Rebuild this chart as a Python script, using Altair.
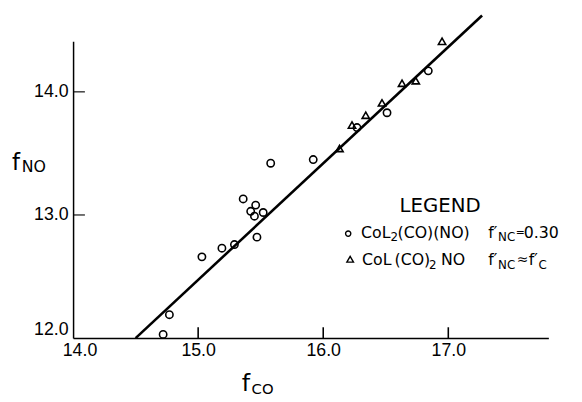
import altair as alt
import pandas as pd

# ---- data ----
circ_x = [14.72, 14.77, 15.03, 15.19, 15.29, 15.47, 15.45, 15.42, 15.52, 15.46, 15.36, 15.58, 15.92, 16.27, 16.51, 16.84]
circ_y = [12.03, 12.19, 12.66, 12.73, 12.76, 12.82, 12.99, 13.03, 13.02, 13.08, 13.13, 13.42, 13.45, 13.71, 13.83, 14.17]
tri_x = [16.13, 16.23, 16.34, 16.47, 16.63, 16.74, 16.95]
tri_y = [13.54, 13.73, 13.81, 13.91, 14.07, 14.09, 14.41]
fit_x = [14.50, 17.27]
fit_y = [12.00, 14.62]
x_labels = [14.0, 15.0, 16.0, 17.0]
y_labels = [12.0, 13.0, 14.0]
x_inner_ticks = [15.0, 16.0, 17.0]
y_inner_ticks = [13.0, 14.0]

W, H = 482, 301
XMIN, XMAX, YMIN, YMAX = 14.0, 17.8, 12.0, 14.41
xscale = alt.Scale(domain=[XMIN, XMAX], nice=False, zero=False)
yscale = alt.Scale(domain=[YMIN, YMAX], nice=False, zero=False)

pts = pd.DataFrame({
    "x": circ_x + tri_x,
    "y": circ_y + tri_y,
    "s": ["o"] * len(circ_x) + ["t"] * len(tri_x),
})

xaxis = alt.Axis(values=x_labels, format=".1f", title=None, ticks=False, grid=False,
                 domainColor="black", domainWidth=1.5, labelFont="Liberation Sans",
                 labelFontSize=18, labelColor="black", labelPadding=4,
                 labelFlush=True, labelFlushOffset=11)
yaxis = alt.Axis(values=y_labels, format=".1f", title=None, ticks=False, grid=False,
                 domainColor="black", domainWidth=1.5, labelFont="Liberation Sans",
                 labelFontSize=18, labelColor="black", labelPadding=5,
                 labelFlush=True)

points = alt.Chart(pts).mark_point(filled=False, strokeWidth=1.6, color="black", size=55, opacity=1).encode(
    x=alt.X("x:Q", scale=xscale, axis=xaxis),
    y=alt.Y("y:Q", scale=yscale, axis=yaxis),
    shape=alt.Shape("s:N", scale=alt.Scale(domain=["o", "t"], range=["circle", "triangle-up"]), legend=None),
)

fit = alt.Chart(pd.DataFrame({"x": fit_x, "y": fit_y})).mark_line(
    color="black", strokeWidth=2.6, clip=False).encode(
    x=alt.X("x:Q", scale=xscale), y=alt.Y("y:Q", scale=yscale))

# inward tick marks
xt = alt.Chart(pd.DataFrame({"x": x_inner_ticks})).mark_rule(
    strokeWidth=1.6, color="black").encode(
    x=alt.X("x:Q", scale=xscale), y=alt.value(H - 11), y2=alt.value(H))
yt = alt.Chart(pd.DataFrame({"y": y_inner_ticks})).mark_tick(
    thickness=1.6, size=12, color="black").encode(
    y=alt.Y("y:Q", scale=yscale), x=alt.value(6))


def txt(s, x, y, size, font="DejaVu Sans"):
    return alt.Chart(alt.Data(values=[{}])).mark_text(
        text=s, align="left", baseline="alphabetic", fontSize=size, font=font, color="black"
    ).encode(x=alt.value(x), y=alt.value(y))


def sym(shape, x, y, size):
    return alt.Chart(alt.Data(values=[{}])).mark_point(
        shape=shape, filled=False, color="black", strokeWidth=1.4, size=size, opacity=1
    ).encode(x=alt.value(x), y=alt.value(y))


texts = [
    # axis titles
    txt("f", 171, 355, 24), txt("CO", 181, 358, 15),
    txt("f", -62, 131, 23), txt("NO", -52, 133, 16),
    # legend
    txt("LEGEND", 331, 173, 20),
    sym("circle", 279, 195, 28),
    txt("CoL", 292, 199, 16), txt("2", 322, 203, 12), txt("(CO)(NO)", 329, 199, 16),
    txt("f′", 421, 199, 16), txt("NC", 431, 203, 12),
    txt("=", 449, 197, 11), txt("0.30", 457, 199, 16),
    sym("triangle-up", 281, 221, 45),
    txt("CoL", 293, 227, 16), txt("(CO)", 326, 227, 16), txt("2", 361, 231, 12),
    txt("NO", 373, 227, 16),
    txt("f′", 421, 227, 16), txt("NC", 431, 231, 12),
    txt("≈", 450, 226, 14),
    txt("f′", 462, 227, 16), txt("C", 472, 231, 12),
]

chart = alt.layer(fit, points, xt, yt, *texts).properties(
    width=W, height=H,
    autosize=alt.AutoSizeParams(type="none"),
    padding={"left": 66, "top": 31, "right": 26, "bottom": 62},
    background="white",
).configure_view(stroke=None)

chart.save("out.html", embed_options={"renderer": "svg", "actions": False})
